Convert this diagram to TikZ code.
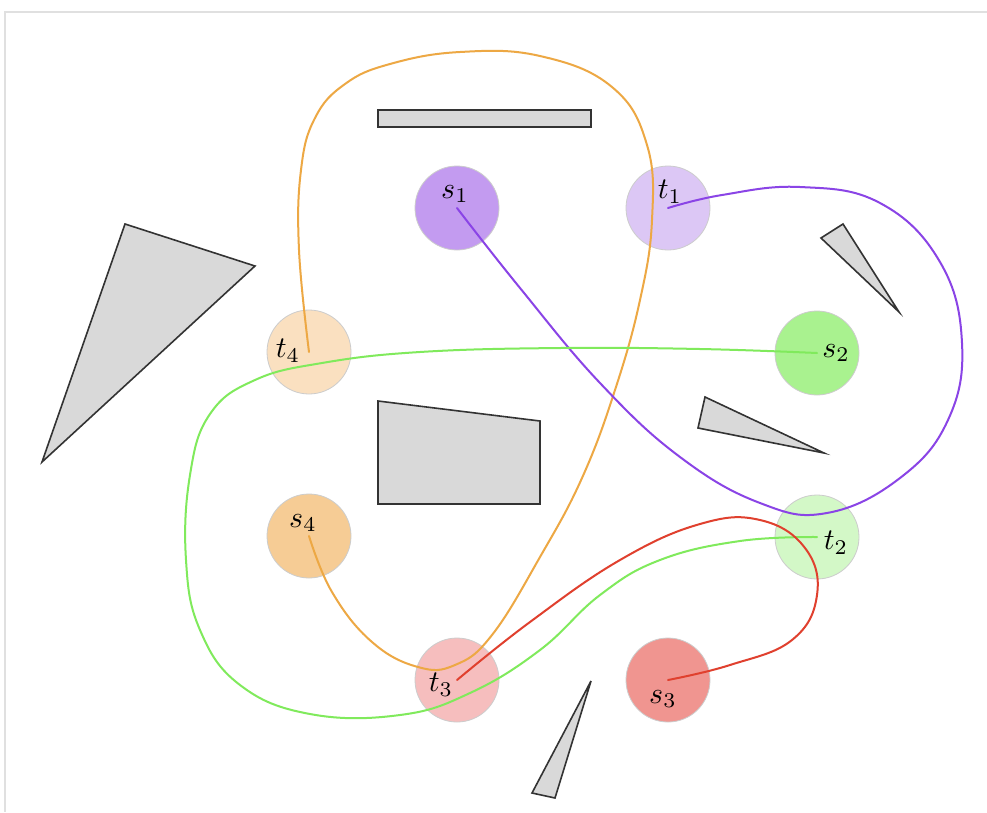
\documentclass[tikz,border=0pt]{standalone}
\newcommand\sitelabel[1]{\scalebox{3}{$#1$}}
\begin{document}
\begin{tikzpicture}[x=1pt,y=-1pt,
  obst/.style={draw=black!80,fill=black!15,line width=1.6pt,line join=miter},
  site/.style={circle,minimum size=84pt,inner sep=0pt,draw=black!20,line width=0.8pt},
  lab/.style={inner sep=0pt},
  path/.style={line width=2pt,line cap=round}]
\definecolor{cS1}{HTML}{C39BF0}
\definecolor{cT1}{HTML}{DCC7F5}
\definecolor{cT4}{HTML}{FAE0C0}
\definecolor{cS4}{HTML}{F6CC95}
\definecolor{cS2}{HTML}{A9F28F}
\definecolor{cT2}{HTML}{D3F8C7}
\definecolor{cT3}{HTML}{F6BEBE}
\definecolor{cS3}{HTML}{F09590}
\definecolor{lO}{HTML}{EDA844}
\definecolor{lP}{HTML}{8A44E6}
\definecolor{lG}{HTML}{80EA5C}
\definecolor{lR}{HTML}{E0402E}
\useasboundingbox (0,0) rectangle (987,812);
\fill[white] (0,0) rectangle (987,812);
% frame
\draw[black!12,line width=2pt] (5,812) -- (5,12) -- (987,12);
% obstacles
\draw[obst] (378,110) rectangle (591,127);
\draw[obst] (125,224) -- (255,266) -- (42,462) -- cycle;
\draw[obst] (821,238) -- (843,224) -- (899,312) -- cycle;
\draw[obst] (378,401) -- (540,421) -- (540,504) -- (378,504) -- cycle;
\draw[obst] (705,397) -- (698,428) -- (824,453) -- cycle;
\draw[obst] (591,681) -- (555,798) -- (532,793) -- cycle;
% sites
\node[site,fill=cS1] (s1) at (457,208) {};
\node[site,fill=cT1] (t1) at (668,208) {};
\node[site,fill=cT4] (t4) at (309,352) {};
\node[site,fill=cS2] (s2) at (817,353) {};
\node[site,fill=cS4] (s4) at (309,536) {};
\node[site,fill=cT2] (t2) at (817,537) {};
\node[site,fill=cT3] (t3) at (457,680) {};
\node[site,fill=cS3] (s3) at (668,680) {};
% paths
\draw[path,lO] plot[smooth,tension=0.7] coordinates {(s4.center) (332,592) (372,642) (418,667) (455,665) (492,635) (540,557) (582,478) (615,390) (640,300) (652,220) (647,145) (612,87) (540,56) (460,52) (390,64) (345,84) (315,118) (301,170) (299,250) (t4.center)};
\draw[path,lP] plot[smooth,tension=0.7] coordinates {(s1.center) (520,288) (600,383) (680,457) (760,503) (827,513) (900,478) (948,420) (962,343) (940,262) (880,203) (800,187) (722,195) (t1.center)};
\draw[path,lG] plot[smooth,tension=0.7] coordinates {(s2.center) (700,349) (560,348) (420,352) (322,363) (255,380) (210,414) (190,475) (186,560) (200,630) (240,685) (310,714) (400,715) (470,693) (540,650) (600,595) (660,560) (740,541) (t2.center)};
\draw[path,lR] plot[smooth,tension=0.7] coordinates {(t3.center) (530,622) (620,560) (700,524) (760,520) (805,548) (817,595) (792,640) (730,665) (s3.center)};
% labels
\node[lab] (s1l) at (455,194) {\sitelabel{s_1}};
\node[lab] (t1l) at (670,192) {\sitelabel{t_1}};
\node[lab] (t4l) at (288,351) {\sitelabel{t_4}};
\node[lab] (s4l) at (303,523) {\sitelabel{s_4}};
\node[lab] (s2l) at (836,353) {\sitelabel{s_2}};
\node[lab] (t2l) at (836,543) {\sitelabel{t_2}};
\node[lab] (t3l) at (441,685) {\sitelabel{t_3}};
\node[lab] (s3l) at (663,699) {\sitelabel{s_3}};
\end{tikzpicture}
\end{document}
